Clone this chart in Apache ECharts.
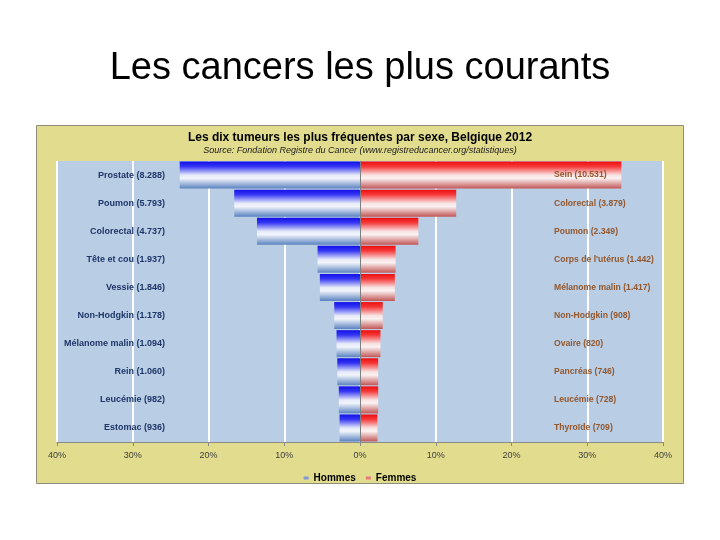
<!DOCTYPE html>
<html>
<head>
<meta charset="utf-8">
<title>Les cancers les plus courants</title>
<script src="https://cdn.jsdelivr.net/npm/echarts@6/dist/echarts.min.js"></script>
<style>
  * { margin: 0; padding: 0; }
  html, body { width: 720px; height: 540px; background: #ffffff; }
  #chart { width: 720px; height: 540px; }
</style>
</head>
<body>
<div id="chart"></div>
<script>
// Hommes (gauche)
const menNames = ['Prostate', 'Poumon', 'Colorectal', 'Tête et cou', 'Vessie', 'Non-Hodgkin', 'Mélanome malin', 'Rein', 'Leucémie', 'Estomac'];
const menCounts = [8288, 5793, 4737, 1937, 1846, 1178, 1094, 1060, 982, 936];
const menPct = [23.8, 16.6, 13.6, 5.6, 5.3, 3.4, 3.1, 3.0, 2.8, 2.7];

// Femmes (droite)
const womenNames = ['Sein', 'Colorectal', 'Poumon', "Corps de l'utérus", 'Mélanome malin', 'Non-Hodgkin', 'Ovaire', 'Pancréas', 'Leucémie', 'Thyroïde'];
const womenCounts = [10531, 3879, 2349, 1442, 1417, 908, 820, 746, 728, 709];
const womenPct = [34.5, 12.7, 7.7, 4.7, 4.6, 3.0, 2.7, 2.4, 2.4, 2.3];

// graduations de l'axe des %
const pctMin = -40;
const pctMax = 40;
const pctStep = 10;

// 8288 -> "8.288"
function fmt(n) {
  return String(n).replace(/\B(?=(\d{3})+(?!\d))/g, '.');
}

const menLabels = menNames.map((n, i) => n + ' (' + fmt(menCounts[i]) + ')');
const womenLabels = womenNames.map((n, i) => n + ' (' + fmt(womenCounts[i]) + ')');

const blueBar = new echarts.graphic.LinearGradient(0, 0, 0, 1, [
  {offset: 0, color: '#1111e8'},
  {offset: 0.18, color: '#3535f4'},
  {offset: 0.5, color: '#e4eaf8'},
  {offset: 0.62, color: '#f3f5fb'},
  {offset: 1, color: '#5a82c0'}
]);
const redBar = new echarts.graphic.LinearGradient(0, 0, 0, 1, [
  {offset: 0, color: '#ee0e0e'},
  {offset: 0.18, color: '#f53838'},
  {offset: 0.5, color: '#f8e2e2'},
  {offset: 0.62, color: '#fbf2f2'},
  {offset: 1, color: '#c25656'}
]);

const chart = echarts.init(document.getElementById('chart'), null, {renderer: 'canvas'});

chart.setOption({
  animation: false,
  backgroundColor: '#ffffff',
  graphic: [{
    type: 'rect',
    z: -10,
    shape: {x: 36.5, y: 125.5, width: 647, height: 358},
    style: {fill: '#e2dc8e', stroke: '#8c8c7a', lineWidth: 1}
  }],
  title: [{
    text: 'Les cancers les plus courants',
    left: 'center',
    top: 45,
    textStyle: {fontFamily: 'Liberation Sans', fontSize: 38, fontWeight: 'normal', color: '#000000'}
  }, {
    text: 'Les dix tumeurs les plus fréquentes par sexe, Belgique 2012',
    subtext: 'Source: Fondation Registre du Cancer (www.registreducancer.org/statistiques)',
    left: 'center',
    top: 127,
    itemGap: 2,
    textStyle: {fontFamily: 'Liberation Sans', fontSize: 12, fontWeight: 'bold', color: '#000000'},
    subtextStyle: {fontFamily: 'Liberation Sans', fontSize: 9, fontStyle: 'italic', color: '#1a1a1a'}
  }],
  legend: {
    data: [
      {name: 'Hommes', itemStyle: {color: '#7f9bd4'}},
      {name: 'Femmes', itemStyle: {color: '#e87a7a'}}
    ],
    bottom: 52,
    left: 'center',
    icon: 'rect',
    itemWidth: 5,
    itemHeight: 3,
    itemGap: 10,
    textStyle: {fontFamily: 'Liberation Sans', fontSize: 10, fontWeight: 'bold', color: '#000000'}
  },
  grid: {
    left: 57, right: 57, top: 161, bottom: 98,
    show: true,
    backgroundColor: '#b9cde5',
    borderWidth: 0
  },
  xAxis: {
    type: 'value',
    min: pctMin,
    max: pctMax,
    interval: pctStep,
    axisLine: {show: true, lineStyle: {color: '#8a8a8a', width: 1}},
    axisTick: {show: true, length: 4, lineStyle: {color: '#8a8a8a'}},
    axisLabel: {
      margin: 9,
      fontFamily: 'Liberation Sans',
      fontSize: 9,
      color: '#404040',
      formatter: v => Math.abs(v) + '%'
    },
    splitLine: {show: true, lineStyle: {color: '#ffffff', width: 2}}
  },
  yAxis: [{
    type: 'category',
    position: 'left',
    inverse: true,
    z: 10,
    data: menLabels,
    axisLine: {show: false, onZero: false},
    axisTick: {show: false},
    splitLine: {show: false},
    axisLabel: {
      interval: 0,
      margin: -108,
      overflow: 'none',
      fontFamily: 'Liberation Sans',
      fontSize: 9,
      fontWeight: 'bold',
      color: '#1f3668'
    }
  }, {
    type: 'category',
    position: 'right',
    inverse: true,
    z: 10,
    data: womenLabels,
    axisLine: {show: false, onZero: false},
    axisTick: {show: false},
    splitLine: {show: false},
    axisLabel: {
      interval: 0,
      margin: -109,
      overflow: 'none',
      fontFamily: 'Liberation Sans',
      fontSize: 8.6,
      fontWeight: 'bold',
      color: '#93582e'
    }
  }],
  series: [{
    name: 'Hommes',
    type: 'bar',
    yAxisIndex: 0,
    barCategoryGap: '4%',
    data: menPct.map(v => -v),
    itemStyle: {color: blueBar}
  }, {
    name: 'Femmes',
    type: 'bar',
    yAxisIndex: 1,
    barCategoryGap: '4%',
    data: womenPct,
    itemStyle: {color: redBar},
    markLine: {
      silent: true,
      symbol: 'none',
      label: {show: false},
      lineStyle: {color: '#7f7f7f', width: 1, type: 'solid'},
      data: [{xAxis: 0}]
    }
  }]
});
</script>
</body>
</html>
